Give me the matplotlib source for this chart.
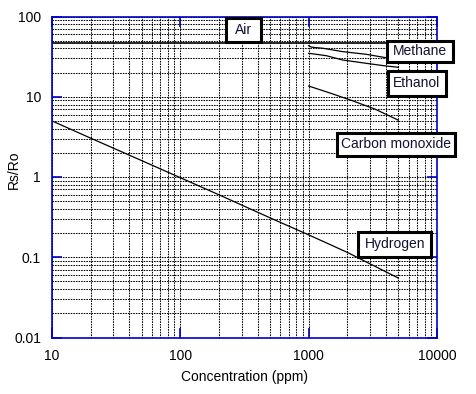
import matplotlib
matplotlib.use("Agg")
import matplotlib.pyplot as plt
from matplotlib.patches import Rectangle
from matplotlib.ticker import LogLocator, NullFormatter, FixedLocator, FixedFormatter

plt.rcParams['font.family'] = ['Liberation Sans', 'DejaVu Sans']

# ---- data ----
h2_x = [10, 20, 50, 100, 200, 500, 1000, 2000, 5000]
h2_y = [5.0, 3.05, 1.6, 0.98, 0.6, 0.31, 0.19, 0.115, 0.055]

ch4_x = [1000, 1050, 1290, 1840, 2810, 3980, 5000]
ch4_y = [43.3, 41.5, 40.2, 36.5, 33.8, 30.7, 29.5]

etoh_x = [1000, 1370, 1840, 2810, 3980, 5000]
etoh_y = [34.8, 32.5, 28.7, 26.1, 24.2, 23.3]

co_x = [1000, 1500, 2200, 3300, 5000]
co_y = [13.6, 11.0, 8.9, 7.0, 5.1]

air_level = 47

x_ticks = [10, 100, 1000, 10000]
x_tick_labels = ["10", "100", "1000", "10000"]
y_ticks = [0.01, 0.1, 1, 10, 100]
y_tick_labels = ["0.01", "0.1", "1", "10", "100"]

labels = ["Air", "Methane", "Ethanol", "Carbon monoxide", "Hydrogen"]
# label boxes in figure pixels: (left, right, top, bottom)
label_boxes = [(225.7, 260.7, 18.3, 41.7), (387, 453, 41, 61.7), (387.7, 446, 70.7, 95.7),
               (336.7, 455, 133.3, 155.7), (358.3, 431, 232.3, 256.7)]

W, H = 477, 394
AX_L, AX_R, AX_T, AX_B = 52, 437, 16.5, 337.5

# ---- figure ----
fig = plt.figure(figsize=(W/100, H/100), dpi=100)
ax = fig.add_axes([AX_L/W, 1-AX_B/H, (AX_R-AX_L)/W, (AX_B-AX_T)/H])
ax.set_xscale('log')
ax.set_yscale('log')
ax.set_xlim(10, 10000)
ax.set_ylim(0.01, 100)

blue = '#0000cc'
for s in ax.spines.values():
    s.set_color(blue)
    s.set_linewidth(1.2)

ax.xaxis.set_major_locator(FixedLocator(x_ticks))
ax.xaxis.set_major_formatter(FixedFormatter(x_tick_labels))
ax.yaxis.set_major_locator(FixedLocator(y_ticks))
ax.yaxis.set_major_formatter(FixedFormatter(y_tick_labels))
ax.xaxis.set_minor_locator(LogLocator(base=10, subs=range(2, 10)))
ax.yaxis.set_minor_locator(LogLocator(base=10, subs=range(2, 10)))
ax.xaxis.set_minor_formatter(NullFormatter())
ax.yaxis.set_minor_formatter(NullFormatter())

ax.tick_params(which='major', direction='in', length=7.5, width=1.2, color=blue,
               top=True, right=True, labelsize=10, pad=8)
ax.tick_params(which='minor', length=0, top=True, right=True)

ax.grid(True, which='both', color='black', linestyle=(0, (1.5, 1.0)), linewidth=0.75)
ax.set_axisbelow(True)

ax.axhline(air_level, color='black', linewidth=1.2)
ax.plot(h2_x, h2_y, color='black', linewidth=0.9)
ax.plot(ch4_x, ch4_y, color='black', linewidth=0.9)
ax.plot(etoh_x, etoh_y, color='black', linewidth=0.9)
ax.plot(co_x, co_y, color='black', linewidth=0.9)

for txt, (l, r, t, b) in zip(labels, label_boxes):
    fx0 = (l - AX_L) / (AX_R - AX_L)
    fx1 = (r - AX_L) / (AX_R - AX_L)
    fy0 = (AX_B - b) / (AX_B - AX_T)
    fy1 = (AX_B - t) / (AX_B - AX_T)
    ax.add_patch(Rectangle((fx0, fy0), fx1 - fx0, fy1 - fy0, transform=ax.transAxes,
                           facecolor='white', edgecolor='black', linewidth=2.2,
                           clip_on=False, zorder=9))
    ax.text((fx0 + fx1) / 2, (fy0 + fy1) / 2, txt, transform=ax.transAxes,
            ha='center', va='center', fontsize=10, color='#111133',
            clip_on=False, zorder=10)

ax.set_xlabel("Concentration (ppm)", fontsize=10, labelpad=5)
ax.set_ylabel("Rs/Ro", fontsize=10, ha='center', va='center')
ax.yaxis.set_label_coords((14 - AX_L) / (AX_R - AX_L), (AX_B - 170) / (AX_B - AX_T))

fig.savefig("out.png", dpi=100)
